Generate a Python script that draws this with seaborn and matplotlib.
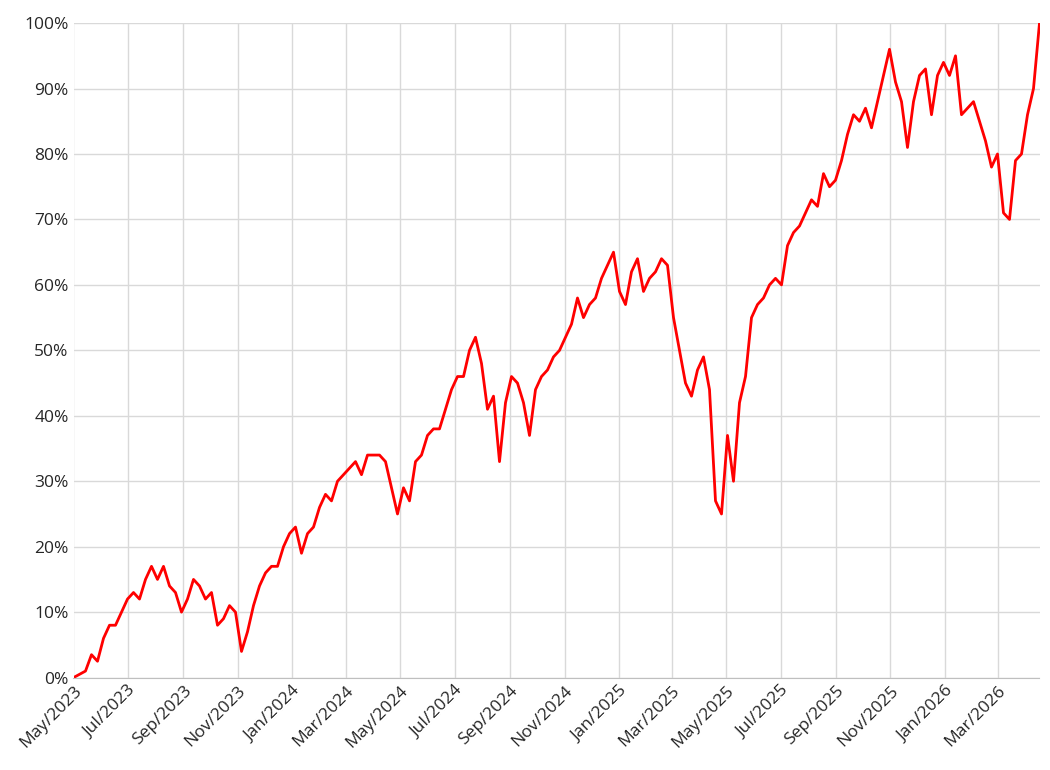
import numpy as np
import pandas as pd
import matplotlib
matplotlib.use("Agg")
import matplotlib.pyplot as plt
import matplotlib.dates as mdates
from matplotlib.ticker import PercentFormatter
import seaborn as sns

# weekly values, percent
values = [
    0, 0.5, 1, 3.5, 2.5,
    6, 8, 8, 10, 12,
    13, 12, 15, 17, 15,
    17, 14, 13, 10, 12,
    15, 14, 12, 13,
    8, 9, 11, 10, 4,
    7, 11, 14, 16,
    17, 17, 20, 22, 23,
    19, 22, 23, 26,
    28, 27, 30, 31,
    32, 33, 31, 34, 34,
    34, 33, 29, 25, 29,
    27, 33, 34, 37, 38,
    38, 41, 44, 46,
    46, 50, 52, 48, 41,
    43, 33, 42, 46,
    45, 42, 37, 44, 46,
    47, 49, 50, 52,
    54, 58, 55, 57, 58,
    61, 63, 65, 59,
    57, 62, 64, 59, 61,
    62, 64, 63, 55,
    50, 45, 43, 47, 49,
    44, 27, 25, 37, 30,
    42, 46, 55, 57,
    58, 60, 61, 60, 66,
    68, 69, 71, 73,
    72, 77, 75, 76,
    79, 83, 86, 85, 87,
    84, 88, 92, 96,
    91, 88, 81, 88, 92, 93, 86, 92, 94, 92, 95, 86,
    87, 88, 85, 82, 78, 80, 71, 70, 79, 80, 86, 90, 100,
]
start_date = "2023-05-01"
end_date = "2026-04-17"

df = pd.DataFrame({
    "date": pd.date_range(start_date, end_date, periods=len(values)),
    "value": values,
})

sns.set_style("white")
plt.rcParams["font.family"] = ["Open Sans", "DejaVu Sans"]

fig, ax = plt.subplots(figsize=(10.5, 7.7), dpi=100)
sns.lineplot(data=df, x="date", y="value", ax=ax, color="#FF0000", linewidth=2)

ax.set_xlim(pd.Timestamp(start_date), pd.Timestamp(end_date))
ax.set_ylim(0, 100)
ax.set_yticks(range(0, 101, 10))
ax.yaxis.set_major_formatter(PercentFormatter(decimals=0))
ax.xaxis.set_major_locator(mdates.MonthLocator(bymonth=[1, 3, 5, 7, 9, 11]))
ax.xaxis.set_major_formatter(mdates.DateFormatter("%b/%Y"))
plt.setp(ax.get_xticklabels(), rotation=45, ha="right", rotation_mode="anchor")
ax.tick_params(labelsize=12.5, length=0)
ax.grid(True, color="#d9d9d9", linewidth=1)
for s in ["top", "right", "left"]:
    ax.spines[s].set_visible(False)
ax.spines["bottom"].set_color("#bfbfbf")
ax.set_xlabel("")
ax.set_ylabel("")

plt.subplots_adjust(left=0.07, right=0.99, top=0.97, bottom=0.12)
plt.savefig("out.png")
